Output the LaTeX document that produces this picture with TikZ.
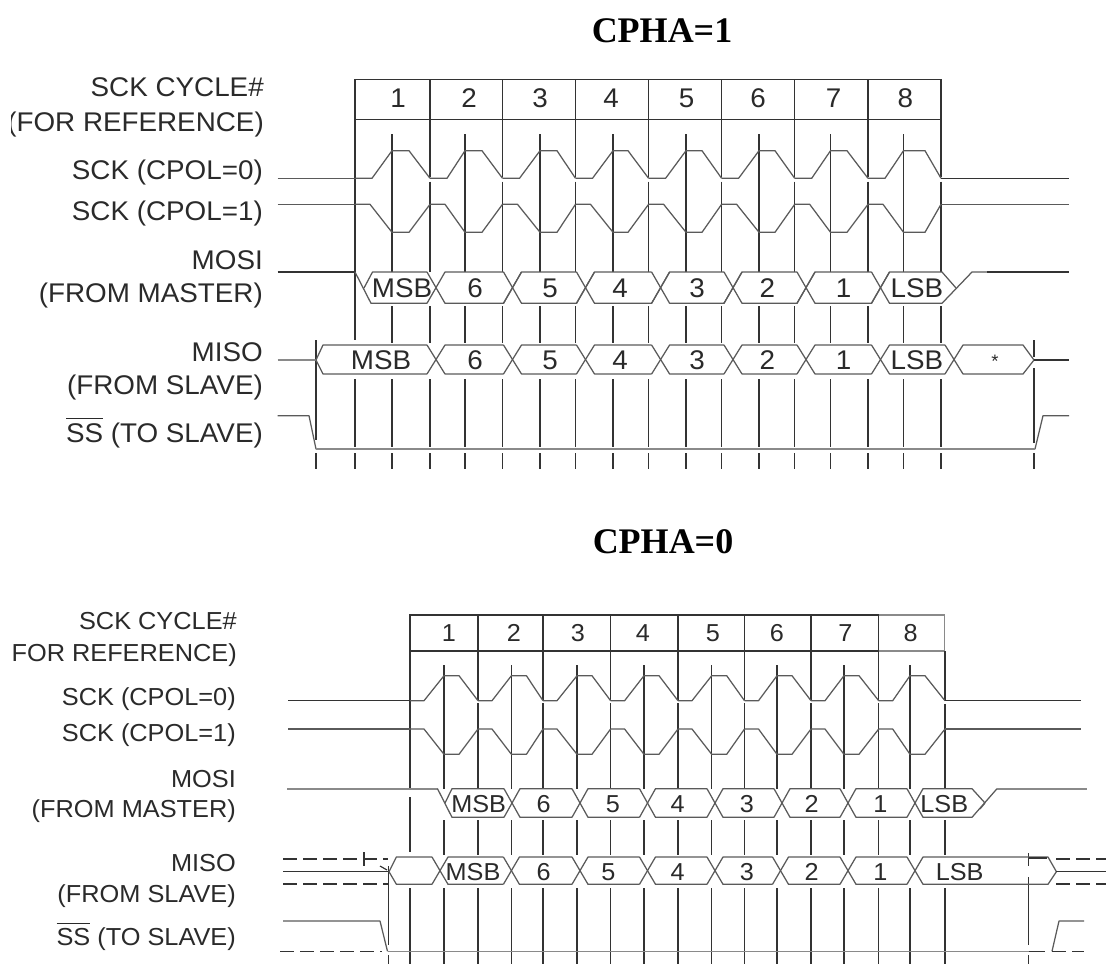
\documentclass[tikz,border=0pt]{standalone}
\usepackage{fontspec}
\setmainfont{Liberation Sans}
\newfontfamily\labfont[FakeStretch=1.03]{Liberation Sans}
\newfontfamily\headfont{Liberation Serif}
\definecolor{ink}{HTML}{2A2A2A}
\definecolor{wire}{HTML}{5A5A5A}
\definecolor{grid}{HTML}{333333}
\definecolor{pale}{HTML}{8A8A8A}
\tikzset{
  gridline/.style={draw=grid,line width=1.15pt},
  wave/.style={draw=wire,line width=1.25pt,line join=round},
  palewave/.style={draw=pale,line width=1.6pt},
  dashwave/.style={draw=grid,line width=1.1pt,dash pattern=on 14pt off 6pt},
  title/.style={font=\headfont\bfseries\fontsize{36}{38}\selectfont,text=black,inner sep=0pt,anchor=base},
  toplab/.style={font=\labfont\fontsize{27}{29}\selectfont,text=ink,inner sep=0pt,anchor=base east},
  botlab/.style={font=\labfont\fontsize{24.6}{26}\selectfont,text=ink,inner sep=0pt,anchor=base east},
  topdat/.style={font=\labfont\fontsize{27}{29}\selectfont,text=ink,inner sep=0pt,anchor=center},
  botdat/.style={font=\labfont\fontsize{24.5}{26}\selectfont,text=ink,inner sep=0pt,anchor=center},
}
\newcommand{\ssbar}{$\overline{\raisebox{0pt}[\dimexpr\height+4pt]{\mbox{SS}}}$}
\begin{document}
\begin{tikzpicture}[x=1pt,y=-1pt]
\useasboundingbox (0,0) rectangle (1106,964);
%% ---------- CPHA=1 ----------
\node[title] (t1) at (662,42) {CPHA=1};
\node[toplab] (a1) at (264,96.5) {SCK CYCLE\#};
\begin{scope}
\clip (11,100) rectangle (270,145);
\node[toplab] (a2) at (264,131) {(FOR REFERENCE)};
\end{scope}
\node[toplab] (a3) at (263,179) {SCK (CPOL=0)};
\node[toplab] (a4) at (263,220) {SCK (CPOL=1)};
\node[toplab] (a5) at (263,269) {MOSI};
\node[toplab] (a6) at (263,302) {(FROM MASTER)};
\node[toplab] (a7) at (263,361) {MISO};
\node[toplab] (a8) at (263,394) {(FROM SLAVE)};
\node[toplab] (a9) at (263,442) {\ssbar{} (TO SLAVE)};
% cycle box
\draw[gridline] (355,79.3) rectangle (941,119.3);
% cycle verticals
\foreach \c in {430,502.5,575.5,648.6,721.6,794.7,868,941}{
  \draw[gridline] (\c,79.3)--(\c,176.7) (\c,181.7)--(\c,272) (\c,306)--(\c,343.3) (\c,379.3)--(\c,446.7) (\c,453)--(\c,469.3);
}
\draw[gridline] (355,79.3)--(355,340) (355,379.3)--(355,446.7) (355,453)--(355,469.3);
% mid verticals
\foreach \c in {392,465,540,613,686,759,830.5,903.5}{
  \draw[gridline] (\c,134)--(\c,272) (\c,306)--(\c,343.3) (\c,379.3)--(\c,446.7) (\c,453)--(\c,469.3);
}
\draw[gridline] (316,340)--(316,440) (316,453)--(316,469.3);
\draw[gridline] (1034,340)--(1034,357) (1034,368)--(1034,443) (1034,453)--(1034,469.3);
% numbers
\foreach \n/\x in {1/398,2/469,3/540,4/611,5/686.5,6/758,7/833.7,8/905.3}{
  \node[topdat] (ca\n) at (\x,98) {\n};
}
% SCK waves
\draw[wave] (277.5,178.3)--(355,178.3);
\draw[wave] (277.5,204.3)--(355,204.3);
\foreach \c/\m/\h/\e in {355/392/409/430,430/465/482/502.5,502.5/540/557/575.5,575.5/613/628/648.6,648.6/686/702/721.6,721.6/759/775/794.7,794.7/830.5/847/868,868/903.5/925/941}{
  \draw[wave] (\c,178.3)--({\c+17},178.3)--(\m,150.7)--(\h,150.7)--(\e,178.3);
  \draw[wave] (\c,204.3)--({\c+15},204.3)--(\m,232.3)--(\h,232.3)--(\e,204.3);
}
\draw[gridline] (941,178.3)--(1069,178.3);
\draw[wave] (941,204.3)--(1069,204.3);
% MOSI
\draw[gridline] (277.5,272)--(355,272);
\draw[wave] (355,272)--(371,303.3)--(427,303.3);
\draw[wave] (364,288)--(372.5,272)--(427,272);
\foreach \a/\b in {436/512.5,512.5/585.5,585.5/660.6,660.6/733,733/806,806/880.5}{
  \draw[wave] ({\a-9},272)--({\a+9},303.3)--({\b-9},303.3)--({\b+9},272);
  \draw[wave] ({\a-9},303.3)--({\a+9},272)--({\b-9},272);
}
\draw[wave] (871.5,272)--(889.5,303.3)--(942,303.3)--(972,272)--(987,272);
\draw[wave] (871.5,303.3)--(889.5,272)--(942,272)--(956,288);
\draw[gridline] (987,272)--(1069,272);
\foreach \t/\x in {MSB/402,6/475,5/550,4/620,3/697,2/767.4,1/843.6,LSB/917}{
  \node[topdat] (ma\t) at (\x,288) {\t};
}
% MISO
\draw[palewave] (277.5,360)--(316,360);
\draw[wave] (427,345)--(323,345)--(316,360)--(323,374)--(427,374);
\foreach \a/\b in {436/512.5,512.5/585.5,585.5/660.6,660.6/733,733/806,806/880.5,880.5/954}{
  \draw[wave] ({\a-9},345)--({\a+9},374)--({\b-9},374);
  \draw[wave] ({\a-9},374)--({\a+9},345)--({\b-9},345);
}
\draw[wave] (945,345)--(963,374)--(1023,374)--(1034,360);
\draw[wave] (945,374)--(963,345)--(1023,345)--(1034,360);
\draw[gridline] (1034,360)--(1069,360);
\foreach \t/\x in {MSB/381,6/475,5/550,4/620,3/697,2/767.4,1/843.6,LSB/917}{
  \node[topdat] (mi\t) at (\x,360) {\t};
}
\node[font=\labfont\fontsize{18}{20}\selectfont,text=ink,inner sep=0pt] (miend) at (995,361) {*};
% SS
\draw[wave] (277.5,415.7)--(309,415.7)--(316,449)--(1035,449)--(1043,415.7)--(1069,415.7);
\draw[palewave] (316,449)--(1035,449);
%% ---------- CPHA=0 ----------
\node[title] (t2) at (663,553) {CPHA=0};
\node[botlab] (b1) at (237,629) {SCK CYCLE\#};
\node[botlab] (b2) at (237,661) {FOR REFERENCE)};
\node[botlab] (b3) at (236,705) {SCK (CPOL=0)};
\node[botlab] (b4) at (236,741.5) {SCK (CPOL=1)};
\node[botlab] (b5) at (236,787.5) {MOSI};
\node[botlab] (b6) at (236,817.5) {(FROM MASTER)};
\node[botlab] (b7) at (236,871.5) {MISO};
\node[botlab] (b8) at (236,902.5) {(FROM SLAVE)};
\node[botlab] (b9) at (236,945.5) {\ssbar{} (TO SLAVE)};
% cycle box
\draw[gridline] (878.7,651)--(410,651)--(410,615)--(878.7,615);
\draw[draw=pale,line width=1.5pt] (878.7,615)--(944.7,615)--(944.7,651)--(878.7,651);
\foreach \c in {478,543,610.6,678,744.5,811,878.7}{
  \draw[gridline] (\c,615)--(\c,700) (\c,703.3)--(\c,788.7) (\c,820)--(\c,855) (\c,888.3)--(\c,964);
}
\draw[gridline] (945,651)--(945,700) (945,704)--(945,788.7) (945,820)--(945,855) (945,888.3)--(945,964);
\draw[gridline] (410,615)--(410,790) (410,797)--(410,851.7) (410,888.3)--(410,964);
\foreach \c in {444,511.4,577,644,711.7,777,844,910}{
  \draw[gridline] (\c,665)--(\c,788.7) (\c,820)--(\c,855) (\c,888.3)--(\c,964);
}
\draw[gridline] (388.5,866)--(388.5,945) (388.5,955)--(388.5,964);
\draw[gridline] (1028.7,853)--(1028.7,866) (1028.7,877)--(1028.7,945) (1028.7,955)--(1028.7,964);
\foreach \n/\x in {1/449,2/514,3/578,4/643,5/713,6/777,7/845.4,8/910.6}{
  \node[botdat] (cb\n) at (\x,633) {\n};
}
% SCK waves
\draw[gridline] (288,700.7)--(410,700.7);
\draw[wave] (288,729)--(410,729);
\foreach \c/\m/\e in {410/444/478,478/511.4/543,543/577/610.6,610.6/644/678,678/711.7/744.5,744.5/777/811,811/844/878.7,878.7/910/945}{
  \draw[wave] (\c,700.7)--({\c+14},700.7)--(\m,675.7)--({\m+15},675.7)--(\e,700.7);
  \draw[wave] (\c,729)--({\c+14},729)--(\m,754.3)--({\m+15},754.3)--(\e,729);
}
\draw[gridline] (945,700.7)--(1081,700.7);
\draw[wave] (945,729)--(1081,729);
% MOSI
\draw[palewave] (287,788.7)--(437.5,788.7);
\draw[wave] (437.5,788.7)--(452,817.3)--(504,817.3);
\draw[wave] (445,803)--(452,788.7)--(504,788.7);
\foreach \a/\b in {512/580,580/647.5,647.5/715,715/782,782/848,848/915}{
  \draw[wave] ({\a-8},788.7)--({\a+8},817.3)--({\b-8},817.3);
  \draw[wave] ({\a-8},817.3)--({\a+8},788.7)--({\b-8},788.7);
}
\draw[wave] (907,788.7)--(923,817.3)--(972,817.3)--(997,788.7);
\draw[wave] (907,817.3)--(923,788.7)--(972,788.7)--(985,803)--(980,809);
\draw[palewave] (997,788.7)--(1086.5,788.7);
\foreach \t/\x in {MSB/478.6,6/543.6,5/613,4/677.7,3/746.8,2/811.7,1/880.5,LSB/944.3}{
  \node[botdat] (mb\t) at (\x,804) {\t};
}
% MISO
\draw[dashwave] (283,859)--(388,859);
\draw[dashwave] (283,884)--(388,884);
\draw[gridline] (283,871.7)--(388,871.7);
\draw[gridline] (364,852)--(364,866);
\draw[gridline] (380,866)--(387,870);
\draw[wave] (432,857)--(396.4,857)--(389,871.7)--(396.4,884.3)--(432,884.3);
\foreach \a/\b in {440/511.4,511.4/580,580/647.5,647.5/715,715/780.5,780.5/848,848/915}{
  \draw[wave] ({\a-8},857)--({\a+8},884.3)--({\b-8},884.3);
  \draw[wave] ({\a-8},884.3)--({\a+8},857)--({\b-8},857);
}
\draw[wave] (907,857)--(923,884.3)--(1048,884.3)--(1056.4,871.7);
\draw[wave] (907,884.3)--(923,857)--(1048,857)--(1056.4,871.7);
\draw[gridline,line width=1.6pt] (1029,858)--(1047,858);
\draw[dashwave] (1056,859)--(1106,859);
\draw[dashwave] (1056,884)--(1106,884);
\draw[gridline] (1056.4,871.7)--(1106,871.7);
\foreach \t/\x in {MSB/473,6/543.6,5/608.5,4/677.7,3/746.8,2/811.7,1/880.5,LSB/959.6}{
  \node[botdat] (nb\t) at (\x,871.7) {\t};
}
% SS
\draw[wave] (283,921)--(380,921)--(387.5,951.3);
\draw[dashwave] (280,951.3)--(382,951.3);
\draw[palewave] (387.5,951.3)--(1029,951.3);
\draw[gridline] (1029,951.3)--(1045,951.3);
\draw[wave] (1052,951.3)--(1059,921)--(1084,921);
\draw[dashwave] (1052,951.3)--(1084,951.3);
\end{tikzpicture}
\end{document}
